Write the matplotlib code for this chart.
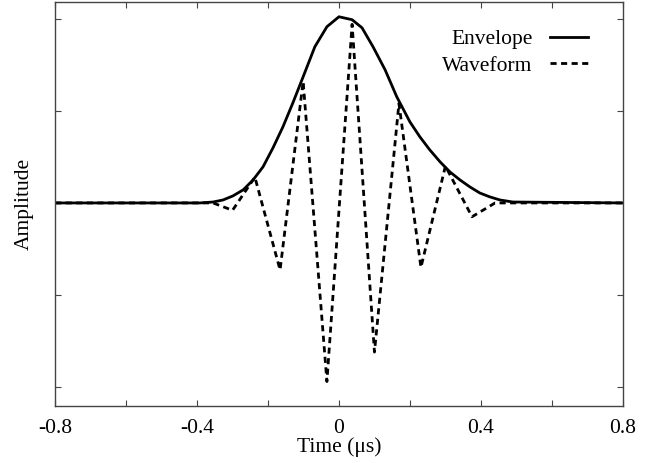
import matplotlib
matplotlib.use("Agg")
import matplotlib.pyplot as plt

plt.rcParams['font.family'] = ['Liberation Serif', 'DejaVu Serif']
plt.rcParams['font.size'] = 15.5

# envelope samples (time in us, amplitude)
env_t = [-0.8, -0.392, -0.355, -0.327, -0.299, -0.270, -0.242, -0.214,
         -0.186, -0.158, -0.130, -0.101, -0.068, -0.034, 0.0, 0.037, 0.065,
         0.096, 0.130, 0.163, 0.200, 0.228, 0.256, 0.285, 0.313, 0.341,
         0.369, 0.397, 0.425, 0.454, 0.490, 0.8]
env_a = [0.0, 0.0, 0.005, 0.016, 0.038, 0.071, 0.125, 0.196,
         0.299, 0.413, 0.543, 0.685, 0.848, 0.957, 1.011, 0.995, 0.951,
         0.848, 0.723, 0.576, 0.440, 0.359, 0.288, 0.223, 0.168, 0.125,
         0.087, 0.054, 0.033, 0.016, 0.005, 0.0]

# waveform samples
wave_t = [-0.8, -0.355, -0.30, -0.237, -0.166, -0.101, -0.034, 0.037, 0.10,
          0.169, 0.231, 0.30, 0.375, 0.44, 0.8]
wave_a = [0.0, 0.0, -0.04, 0.14, -0.364, 0.66, -0.97, 0.97, -0.81,
          0.54, -0.35, 0.20, -0.075, 0.0, 0.0]

xticks = [-0.8, -0.6, -0.4, -0.2, 0.0, 0.2, 0.4, 0.6, 0.8]
xlabels = ['-0.8', '', '-0.4', '', '0', '', '0.4', '', '0.8']
yticks = [-1.0, -0.5, 0.0, 0.5, 1.0]

fig = plt.figure(figsize=(6.64, 4.63), dpi=100)
ax = fig.add_axes([0.083, 0.123, 0.855, 0.873])

ax.plot(wave_t, wave_a, color='black', lw=2.0, linestyle=(0, (2.2, 1.6)),
        label='Waveform')
ax.plot(env_t, env_a, color='black', lw=2.0, label='Envelope')

ax.set_xlim(-0.8, 0.8)
ax.set_ylim(-1.103, 1.092)
ax.set_xticks(xticks)
ax.set_xticklabels(xlabels)
ax.set_yticks(yticks)
ax.set_yticklabels([])
ax.tick_params(direction='in', top=True, right=True, length=4, width=0.8,
               color='#444444', pad=9)
for s in ax.spines.values():
    s.set_color('#444444')
    s.set_linewidth(1.0)

ax.set_xlabel('Time (\u03bcs)', labelpad=0)
ax.set_ylabel('Amplitude', labelpad=6)

handles, labels = ax.get_legend_handles_labels()
ax.legend(handles[::-1], labels[::-1], loc='upper right', frameon=False,
          markerfirst=False, handlelength=1.8, handletextpad=0.8,
          labelspacing=0.3, borderaxespad=0.3, bbox_to_anchor=(0.966, 0.97))

fig.savefig('out.png', dpi=100)
